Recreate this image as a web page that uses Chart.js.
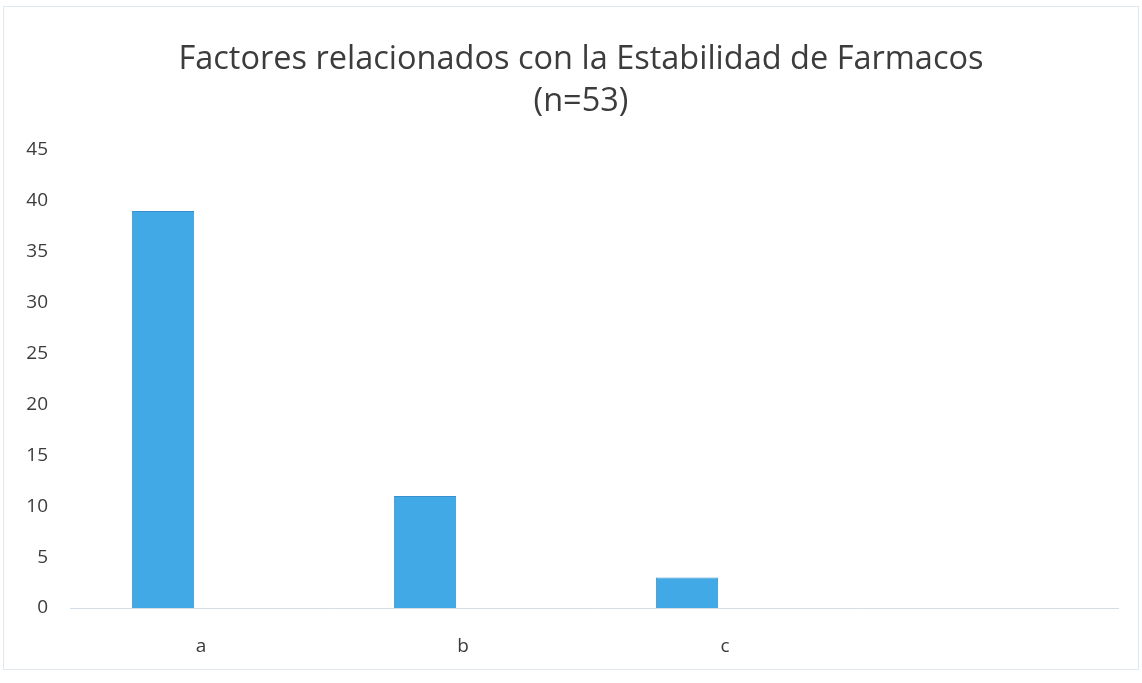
<!DOCTYPE html>
<html>
<head>
<meta charset="utf-8">
<script src="https://cdn.jsdelivr.net/npm/chart.js@4/dist/chart.umd.min.js"></script>
<style>
  html, body { margin: 0; padding: 0; background: #ffffff; }
  #wrap { position: relative; width: 1142px; height: 683px; box-sizing: border-box; }
  #frame { position: absolute; left: 3px; top: 6px; width: 1136px; height: 664px; box-sizing: border-box; border: 1px solid #e2e8ef; pointer-events: none; }
  canvas { position: absolute; left: 0; top: 0; }
</style>
</head>
<body>
<div id="wrap">
  <canvas id="c" width="1142" height="683"></canvas>
  <div id="frame"></div>
</div>
<script>
const categories = ['a', 'b', 'c', ''];
const seriesMain = [39, 11, 3, null];
const seriesEmpty = [null, null, null, null];
const titleLines = ['Factores relacionados con la Estabilidad de Farmacos', '(n=53)'];
const yMin = 0, yMax = 45, yStep = 5;

const txt = '#3c3c3c';
const titleFont = '"Open Sans", Lato, sans-serif';
const tickFont = '"Open Sans", Lato, sans-serif';

new Chart(document.getElementById('c'), {
  type: 'bar',
  data: {
    labels: categories,
    datasets: [
      { label: 'Serie 1', data: seriesMain, backgroundColor: '#41a9e6', borderColor: '#3891cc', borderWidth: 1, categoryPercentage: 0.58, barPercentage: 0.82 },
      { label: 'Serie 2', data: seriesEmpty, backgroundColor: '#ed7d31', categoryPercentage: 0.58, barPercentage: 0.82 }
    ]
  },
  options: {
    responsive: false,
    animation: false,
    layout: { padding: { top: 39, left: 20, right: 0, bottom: 0 } },
    plugins: {
      legend: { display: false },
      tooltip: { enabled: false },
      title: {
        display: true,
        text: titleLines,
        color: txt,
        font: { family: titleFont, size: 32.5, weight: 'normal', lineHeight: 1.29 },
        padding: { top: 0, bottom: 27 }
      }
    },
    scales: {
      x: {
        grid: { display: false, drawTicks: false },
        border: { display: true, color: '#d3dde8', width: 1 },
        ticks: { color: txt, font: { family: tickFont, size: 19 }, padding: 27 },
        afterFit: (s) => { s.height = 75; }
      },
      y: {
        min: yMin, max: yMax,
        grid: { display: false, drawTicks: false },
        border: { display: false },
        ticks: { stepSize: yStep, color: txt, font: { family: tickFont, size: 19 }, padding: 22 },
        afterFit: (s) => { s.width = 50; }
      },
      yRight: {
        position: 'right',
        display: true,
        min: yMin, max: yMax,
        grid: { display: false, drawTicks: false },
        border: { display: false },
        ticks: { display: false },
        afterFit: (s) => { s.width = 24; }
      }
    }
  }
});
</script>
</body>
</html>
